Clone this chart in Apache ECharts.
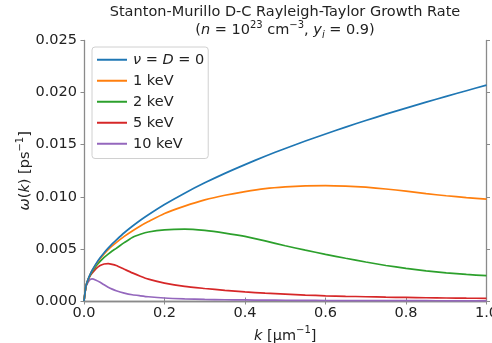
<!DOCTYPE html>
<html>
<head>
<meta charset="utf-8">
<script src="https://cdn.jsdelivr.net/npm/echarts@6/dist/echarts.min.js"></script>
<style>
html,body{margin:0;padding:0;background:#fff;}
#chart{width:492px;height:343px;}
</style>
</head>
<body>
<div id="chart"></div>
<script>
// wavenumber k [1/um]
const kValues = [0, 0.005, 0.01, 0.015, 0.02, 0.03, 0.04, 0.05, 0.06, 0.07, 0.08, 0.1, 0.12, 0.14, 0.16, 0.2, 0.25, 0.3, 0.35, 0.4, 0.45, 0.5, 0.55, 0.6, 0.65, 0.7, 0.75, 0.8, 0.85, 0.9, 0.95, 1.0];
// growth rate omega(k) [1/ps]
const omegaIdeal = [0, 0.00146, 0.00207, 0.00254, 0.00293, 0.00359, 0.00414, 0.00463, 0.00507, 0.00548, 0.00585, 0.00655, 0.00717, 0.00775, 0.00828, 0.00926, 0.01035, 0.01134, 0.01225, 0.01309, 0.01389, 0.01464, 0.01535, 0.01603, 0.01669, 0.01732, 0.01793, 0.01851, 0.01908, 0.01964, 0.02018, 0.02072];
const omega1keV = [0, 0.00146, 0.00206, 0.00252, 0.0029, 0.00354, 0.00406, 0.00452, 0.00492, 0.00528, 0.0056, 0.0062, 0.00672, 0.0072, 0.00762, 0.0084, 0.0091, 0.0097, 0.01015, 0.0105, 0.01078, 0.01095, 0.01105, 0.01108, 0.01103, 0.01092, 0.01075, 0.01055, 0.0103, 0.0101, 0.00993, 0.00978];
const omega2keV = [0, 0.00145, 0.00203, 0.00246, 0.0028, 0.00336, 0.0038, 0.00418, 0.0045, 0.0048, 0.00505, 0.0056, 0.0061, 0.0064, 0.00662, 0.00683, 0.0069, 0.00677, 0.00652, 0.0062, 0.00577, 0.0053, 0.00488, 0.00448, 0.0041, 0.00374, 0.00341, 0.00313, 0.0029, 0.0027, 0.00255, 0.00243];
const omega5keV = [0, 0.0014, 0.002, 0.0024, 0.00266, 0.0031, 0.0034, 0.00355, 0.00359, 0.00352, 0.0034, 0.00305, 0.0027, 0.00238, 0.0021, 0.00172, 0.0014, 0.0012, 0.00102, 0.00087, 0.00075, 0.00066, 0.00057, 0.0005, 0.00045, 0.00041, 0.00037, 0.00034, 0.00031, 0.00029, 0.00027, 0.00026];
const omega10keV = [0, 0.0014, 0.0018, 0.00205, 0.00213, 0.002, 0.0018, 0.00155, 0.00133, 0.00114, 0.00098, 0.00076, 0.0006, 0.0005, 0.00041, 0.00029, 0.00021, 0.00016, 0.00012, 0.0001, 0.00008, 0.00007, 0.00006, 0.00005, 0.00004, 0.00004, 0.00003, 0.00003, 0.00003, 0.00002, 0.00002, 0.00002];
const seriesNames = ['ν = D = 0', '1 keV', '2 keV', '5 keV', '10 keV'];
const seriesColors = ['#1f77b4', '#ff7f0e', '#2ca02c', '#d62728', '#9467bd'];
const xTicks = [0, 0.2, 0.4, 0.6, 0.8, 1.0];
const yTicks = [0, 0.005, 0.01, 0.015, 0.02, 0.025];

const FONT = 'DejaVu Sans';
const FS = 14.5;
const SFS = 10;
const TXT = '#222';
const AX = '#8a8a8a';
const allSeries = [omegaIdeal, omega1keV, omega2keV, omega5keV, omega10keV];

const chart = echarts.init(document.getElementById('chart'), null, {renderer: 'canvas'});

const xBase = {
  type: 'value', min: xTicks[0], max: xTicks[xTicks.length - 1], interval: 0.2,
  splitLine: {show: false},
  axisLine: {show: true, lineStyle: {color: AX, width: 1.3}},
  axisTick: {show: true, length: 3.5, inside: false, lineStyle: {color: AX, width: 1}},
};
const yBase = {
  type: 'value', min: yTicks[0], max: yTicks[yTicks.length - 1], interval: 0.005,
  splitLine: {show: false},
  axisLine: {show: true, onZero: false, lineStyle: {color: AX, width: 1.3}},
  axisTick: {show: true, length: 3.5, inside: false, lineStyle: {color: AX, width: 1}},
};

const richBase = {
  i: {fontStyle: 'italic', fontSize: FS, fontFamily: FONT, color: TXT, lineHeight: 20},
  n: {fontSize: FS, fontFamily: FONT, color: TXT, lineHeight: 20},
  sup: {fontSize: SFS, fontFamily: FONT, color: TXT, lineHeight: 11, verticalAlign: 'top'},
  si: {fontSize: SFS, fontStyle: 'italic', fontFamily: FONT, color: TXT, lineHeight: 11, verticalAlign: 'bottom'}
};

chart.setOption({
  animation: false,
  backgroundColor: '#fff',
  textStyle: {fontFamily: FONT},
  grid: {left: 84, right: 5.5, top: 40.5, bottom: 42, containLabel: false, outerBoundsMode: 'none'},
  graphic: [
    {type: 'text', x: 285, y: 12, style: {text: 'Stanton-Murillo D-C Rayleigh-Taylor Growth Rate', fontSize: FS, fontFamily: FONT, fill: TXT, align: 'center', verticalAlign: 'middle'}},
    {type: 'text', x: 285, y: 30, style: {
      text: '{n|(}{i|n}{n| = 10}{sup|23}{n| cm}{sup|−3}{n|, }{i|y}{si|i}{n| = 0.9)}',
      rich: richBase, fontSize: FS, fontFamily: FONT, fill: TXT, align: 'center', verticalAlign: 'middle'}}
  ],
  legend: {
    orient: 'vertical', left: 92, top: 47,
    data: seriesNames,
    icon: 'rect',
    itemWidth: 30, itemHeight: 2, itemGap: 5.5,
    padding: [5, 4, 7, 5],
    borderColor: '#d0d0d0', borderWidth: 1, borderRadius: 3,
    backgroundColor: 'rgba(255,255,255,0.85)',
    formatter: function (name) {
      if (name === seriesNames[0]) return '{i|ν}{n| = }{i|D}{n| = 0}';
      return '{n|' + name + '}';
    },
    textStyle: {fontSize: FS, fontFamily: FONT, color: TXT, lineHeight: 15.5, padding: [0, 0, 0, 1],
      rich: {
        i: {fontStyle: 'italic', fontSize: FS, fontFamily: FONT, color: TXT, lineHeight: 15.5},
        n: {fontSize: FS, fontFamily: FONT, color: TXT, lineHeight: 15.5}
      }
    }
  },
  xAxis: [
    Object.assign({}, xBase, {
      position: 'bottom',
      name: '{i|k}{n| [μm}{sup|−1}{n|]}',
      nameLocation: 'middle', nameGap: 21,
      nameTextStyle: {rich: richBase, fontSize: FS, color: TXT},
      axisLabel: {show: true, fontSize: FS, fontFamily: FONT, color: TXT, margin: 5,
        formatter: function (v) { return v.toFixed(1); }}
    }),
    Object.assign({}, xBase, {position: 'top', axisLabel: {show: false}})
  ],
  yAxis: [
    Object.assign({}, yBase, {
      position: 'left',
      name: '{i|ω}{n|(}{i|k}{n|) [ps}{sup|−1}{n|]}',
      nameLocation: 'middle', nameGap: 49, nameRotate: 90, nameMoveOverlap: false,
      nameTextStyle: {rich: richBase, fontSize: FS, color: TXT},
      axisLabel: {show: true, fontSize: FS, fontFamily: FONT, color: TXT, margin: 7,
        formatter: function (v) { return v.toFixed(3); }}
    }),
    Object.assign({}, yBase, {position: 'right', axisLabel: {show: false}})
  ],
  series: allSeries.map(function (vals, idx) {
    return {
      name: seriesNames[idx],
      type: 'line',
      xAxisIndex: 0, yAxisIndex: 0,
      data: kValues.map(function (k, j) { return [k, vals[j]]; }),
      symbol: 'none',
      smooth: 0.2,
      clip: true,
      lineStyle: {color: seriesColors[idx], width: 1.7},
      itemStyle: {color: seriesColors[idx]},
      z: 2 + (5 - idx)
    };
  })
});
</script>
</body>
</html>
